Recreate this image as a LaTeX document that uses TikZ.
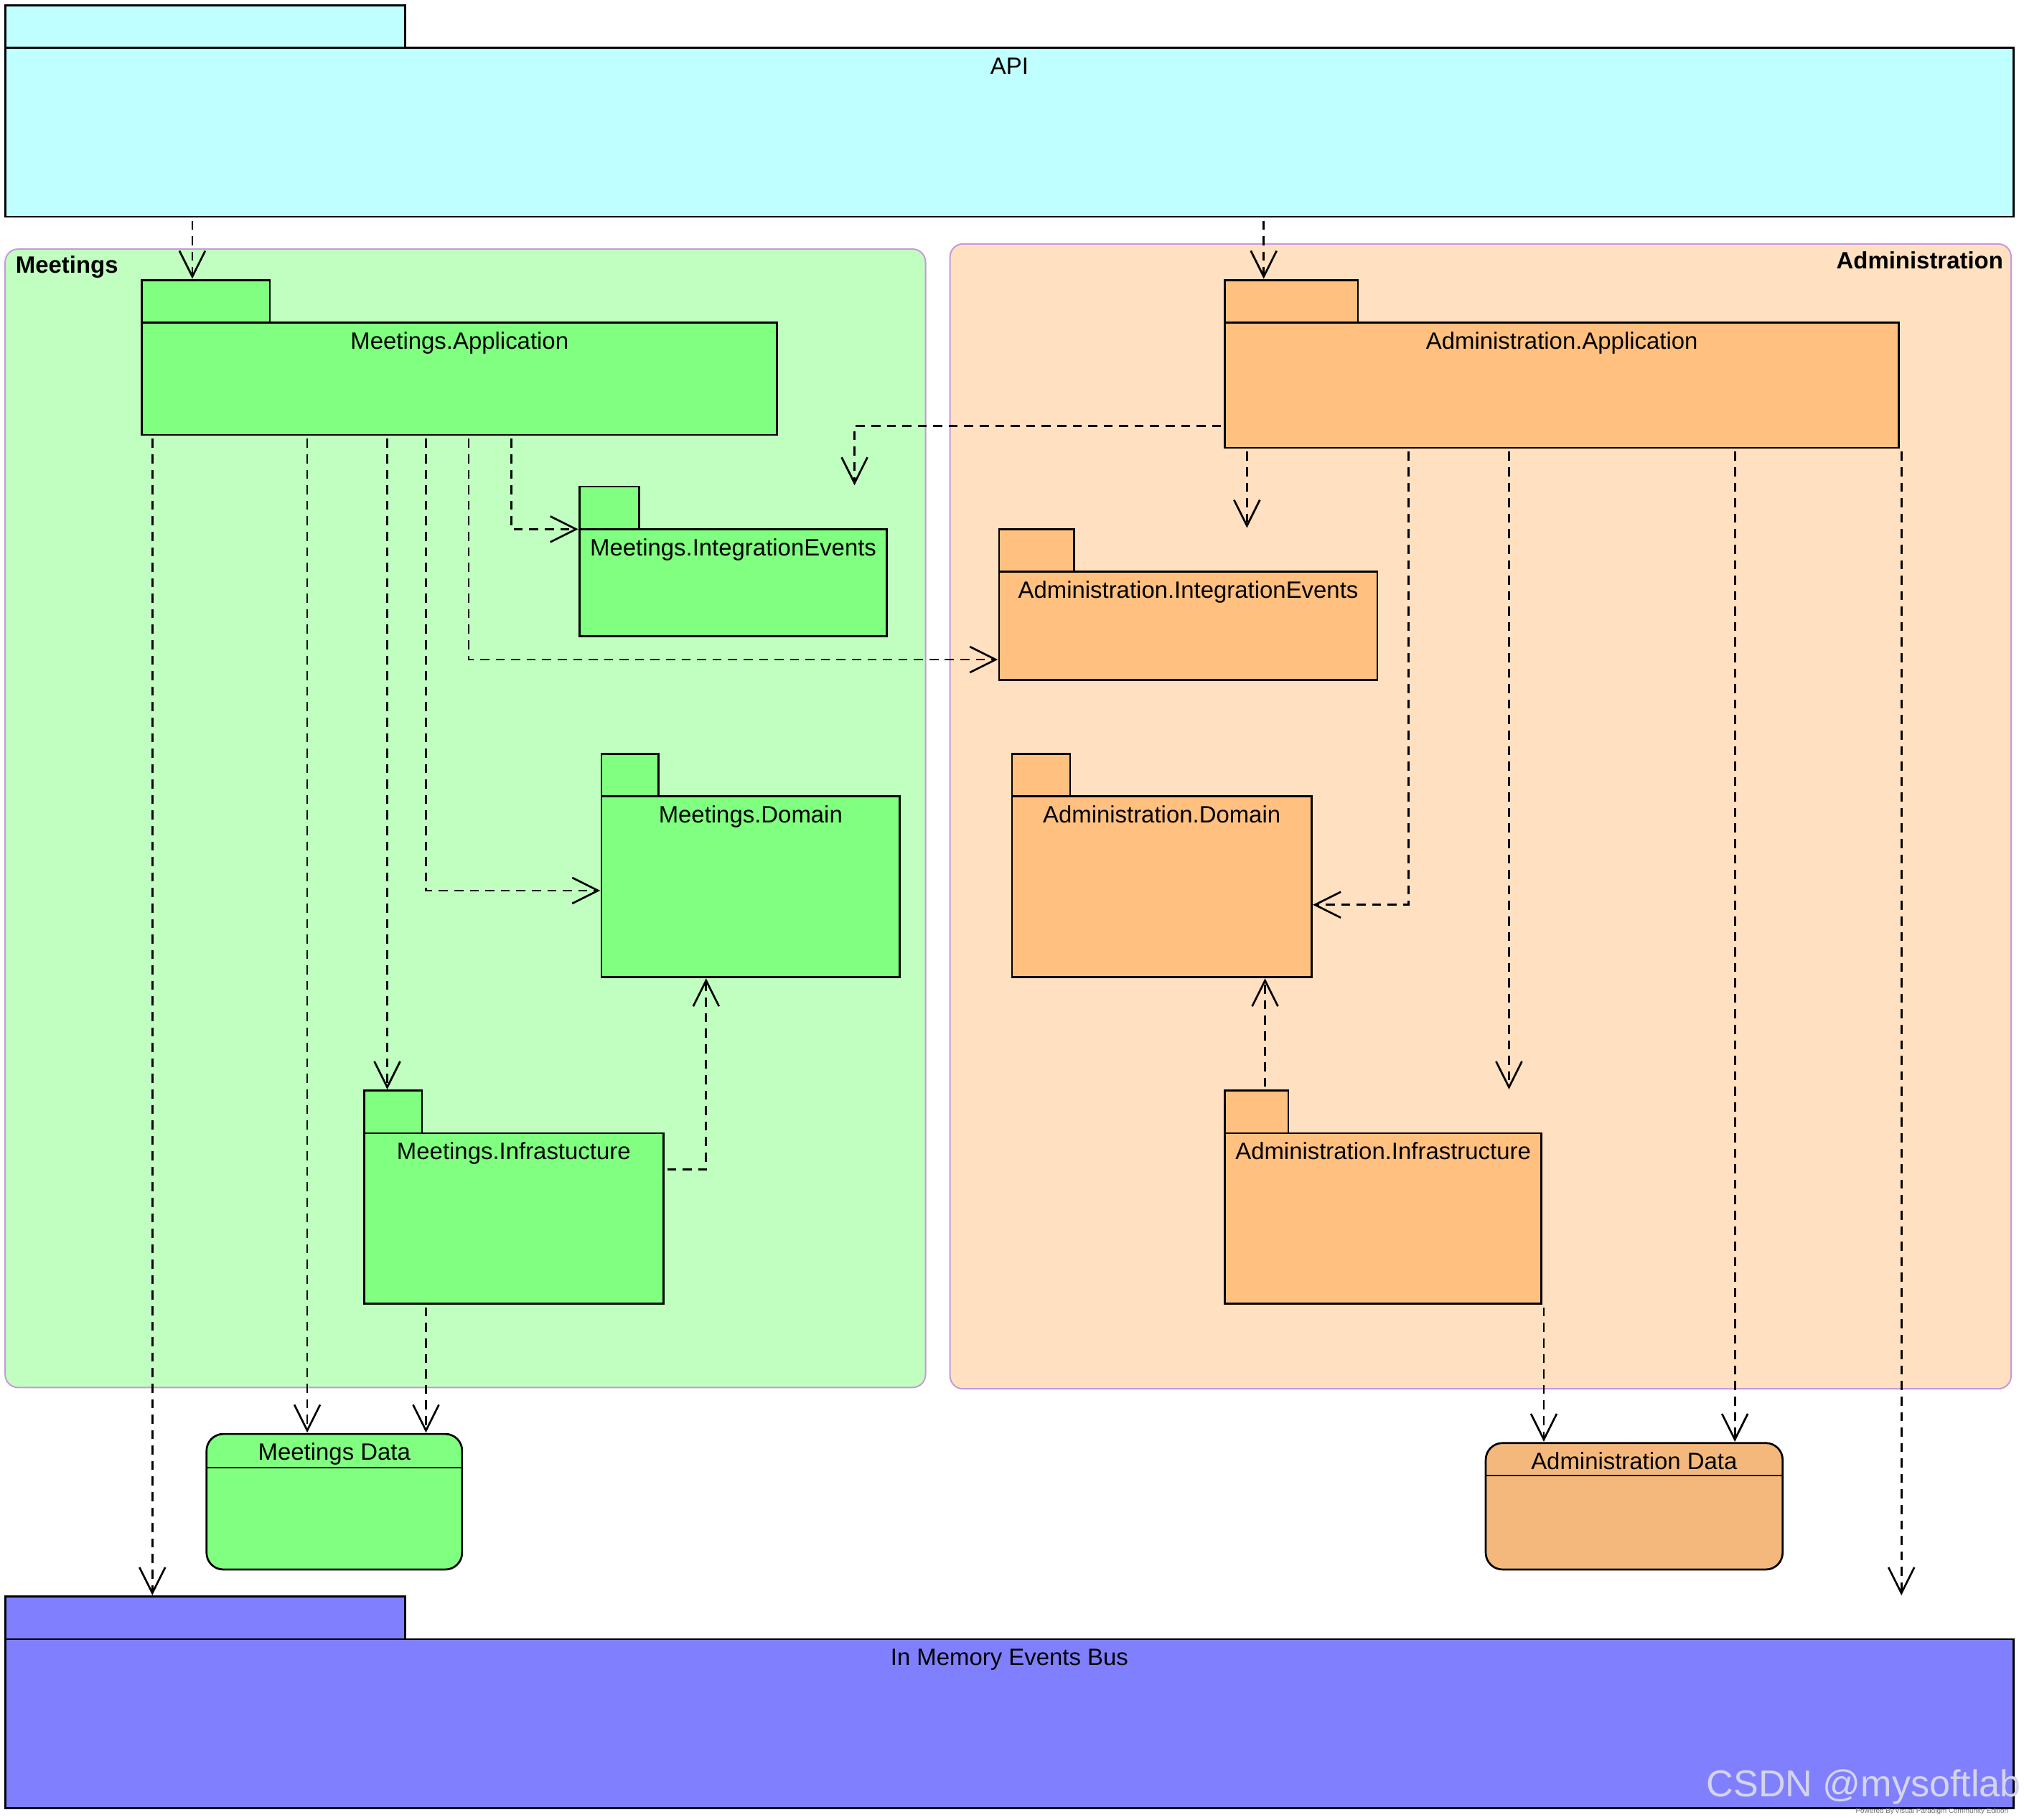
\documentclass[tikz,border=0pt]{standalone}
\usepackage{fontspec}
\setmainfont{Liberation Sans}
\usetikzlibrary{arrows.meta}
\definecolor{apiC}{HTML}{C0FFFF}
\definecolor{mcontC}{HTML}{C0FFC0}
\definecolor{acontC}{HTML}{FFE0C0}
\definecolor{mpkgC}{HTML}{80FF80}
\definecolor{apkgC}{HTML}{FFC080}
\definecolor{adataC}{HTML}{F4B87C}
\definecolor{busC}{HTML}{8080FF}
\definecolor{contB}{HTML}{C898D8}
\definecolor{wmC}{HTML}{D4D4EC}
\tikzset{
  box/.style={draw=black, line width=1.5pt, inner sep=0pt, outer sep=0pt},
  apibox/.style={box, fill=apiC},
  mbox/.style={box, fill=mpkgC},
  abox/.style={box, fill=apkgC},
  busbox/.style={box, fill=busC},
  contbox/.style={draw=contB, line width=1.1pt, rounded corners=10pt, inner sep=0pt, outer sep=0pt},
  databox/.style={box, rounded corners=13pt},
  lbl/.style={inner sep=0pt, font=\fontsize{18.3pt}{22pt}\selectfont},
  blbl/.style={inner sep=0pt, font=\fontsize{18.3pt}{22pt}\selectfont\bfseries},
  dep/.style={line width=1.5pt, dash pattern=on 7pt off 5pt, shorten <=3pt, shorten >=1pt,
    -{Straight Barb[length=20pt,width=20pt,line width=1.5pt]}},
}
% #1 name, #2 style, #3 x, #4 y of body top, #5 width, #6 height, #7 tab width, #8 label
\newcommand{\umlpkg}[8]{%
  \node[#2, minimum width=#5pt, minimum height=#6pt, anchor=north west] (#1) at (#3,#4) {};
  \node[#2, minimum width=#7pt, minimum height=33pt, anchor=south west] (#1T) at (#1.north west) {};
  \node[lbl, anchor=base] (#1L) at ([yshift=-20.5pt]#1.north) {#8};
}
\begin{document}
\begin{tikzpicture}[x=1pt, y=-1pt]
\useasboundingbox (0,0) rectangle (1568,1410);
\fill[white] (0,0) rectangle (1568,1410);

% containers
\node[contbox, fill=mcontC, minimum width=713pt, minimum height=882pt, anchor=north west] (mcont) at (4,193) {};
\node[blbl, anchor=base west] (mcontL) at ([xshift=8pt, yshift=-18.5pt]mcont.north west) {Meetings};
\node[contbox, fill=acontC, minimum width=822pt, minimum height=887pt, anchor=north west] (acont) at (736,189) {};
\node[blbl, anchor=base east] (acontL) at ([xshift=-6pt, yshift=-19.5pt]acont.north east) {Administration};

% packages
\umlpkg{api}{apibox}{4}{37}{1556}{131}{310}{API}
\umlpkg{mapp}{mbox}{110}{250}{492}{87}{99}{Meetings.Application}
\umlpkg{mie}{mbox}{449}{410}{238}{83}{46}{Meetings.IntegrationEvents}
\umlpkg{mdom}{mbox}{466}{617}{231}{140}{44}{Meetings.Domain}
\umlpkg{minf}{mbox}{282}{878}{232}{132}{45}{Meetings.Infrastucture}
\umlpkg{aapp}{abox}{949}{250}{522}{97}{103}{Administration.Application}
\umlpkg{aie}{abox}{774}{443}{293}{84}{58}{Administration.IntegrationEvents}
\umlpkg{adom}{abox}{784}{617}{232}{140}{45}{Administration.Domain}
\umlpkg{ainf}{abox}{949}{878}{245}{132}{49}{Administration.Infrastructure}
\umlpkg{bus}{busbox}{4}{1270}{1556}{131}{310}{In Memory Events Bus}

% data stores
\node[databox, fill=mpkgC, minimum width=198pt, minimum height=105pt, anchor=north west] (mdata) at (160,1111) {};
\draw[line width=1pt] (mdata.west |- 0,1137) -- (mdata.east |- 0,1137);
\node[lbl, anchor=base] (mdataL) at ([yshift=-20.5pt]mdata.north) {Meetings Data};
\node[databox, fill=adataC, minimum width=230pt, minimum height=98pt, anchor=north west] (adata) at (1151,1118) {};
\draw[line width=1pt] (adata.west |- 0,1143) -- (adata.east |- 0,1143);
\node[lbl, anchor=base] (adataL) at ([yshift=-20.5pt]adata.north) {Administration Data};

% dependencies
\draw[dep] (149,0 |- api.south) -- (149,0 |- mappT.north);
\draw[dep] (979,0 |- api.south) -- (979,0 |- aappT.north);
\draw[dep] (118,0 |- mapp.south) -- (118,0 |- busT.north);
\draw[dep] (238,0 |- mapp.south) -- (238,0 |- mdata.north);
\draw[dep] (300,0 |- mapp.south) -- (300,0 |- minfT.north);
\draw[dep] (330,0 |- mapp.south) |- (mdom.west |- 0,690);
\draw[dep] (363,0 |- mapp.south) |- (aie.west |- 0,511);
\draw[dep] (396,0 |- mapp.south) |- (mie.north west);
\draw[dep] (minf.east |- 0,906) -| (547,0 |- mdom.south);
\draw[dep] (330,0 |- minf.south) -- (330,0 |- mdata.north);
\draw[dep] (aapp.west |- 0,330) -| (662,0 |- mieT.north);
\draw[dep] (966,0 |- aapp.south) -- (966,0 |- aieT.north);
\draw[dep] (1091,0 |- aapp.south) |- (adom.east |- 0,701);
\draw[dep] (1169,0 |- aapp.south) -- (1169,0 |- ainfT.north);
\draw[dep] (1344,0 |- aapp.south) -- (1344,0 |- adata.north);
\draw[dep] (1473,0 |- aapp.south) -- (1473,0 |- busT.north);
\draw[dep] (980,0 |- ainfT.north) -- (980,0 |- adom.south);
\draw[dep] (1196,0 |- ainf.south) -- (1196,0 |- adata.north);

% watermark
\node[inner sep=0pt, anchor=base east, text=wmC, font=\fontsize{29pt}{32pt}\selectfont] (wm) at (1566,1392) {CSDN @mysoftlab};
\node[inner sep=0pt, anchor=base east, text=black!55, font=\fontsize{5.5pt}{6pt}\selectfont] (vp) at (1556,1405) {Powered By\,Visual Paradigm Community Edition};
\end{tikzpicture}
\end{document}
